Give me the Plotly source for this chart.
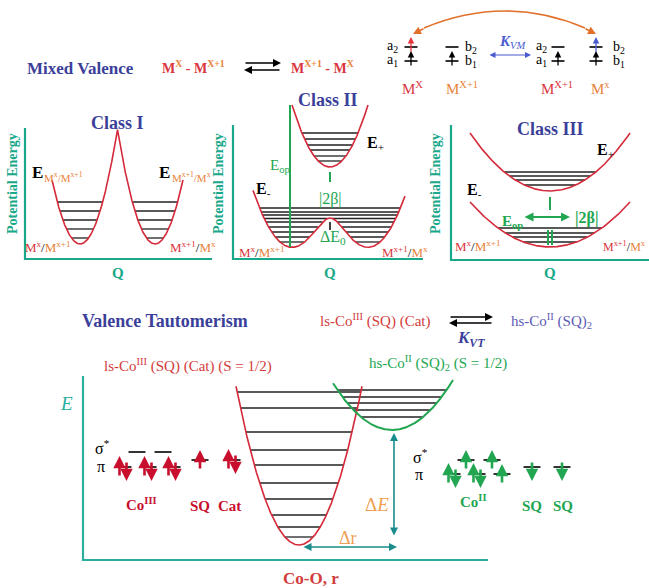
import numpy as np
import plotly.graph_objects as go

W, H = 649, 588
SERIF = "Liberation Serif, Times New Roman, DejaVu Serif, serif"

# ---------------- data (energies / coordinates in each panel's own units) ----------------
# Class I : two uncoupled harmonic wells
c1_well_Q = [55, 130]
c1_well_E = [15, 15]
c1_curv = 0.0816
c1_Q_span = [27, 158]
c1_levels = [57, 48, 39, 30, 21]

# Class II : weakly coupled
c2_up_Q0, c2_up_E0, c2_up_curv = 97, 92, 0.043
c2_up_span = [59, 135]
c2_up_levels = [126, 120, 114, 109, 103, 98]
c2_dia_Q = [57, 137]
c2_dia_E0 = 18
c2_dia_curv = 0.0394
c2_beta = 40
c2_lo_span = [20, 172]
c2_lo_levels = [51, 47, 44, 40.5, 37, 32, 27, 22, 17]
c2_Eop_Q, c2_Eop_E = 57, [12, 154]
c2_2b_Q, c2_2b_E = 97, [77, 87]
c2_dE0_E = [29, 37]

# Class III : fully delocalised
c3_Q0 = 99
c3_up_E0, c3_up_curv = 69, 0.00906
c3_lo_E0, c3_lo_curv = 13, 0.00703
c3_span = [19, 179]
c3_up_levels = [88, 84, 80, 75]
c3_lo_levels = [32, 27, 23, 18]
c3_gap_E = [50, 63]
c3_pair_Q, c3_pair_E = [97, 101], [15, 30]
c3_Eop_Q, c3_Eop_E = [72, 119], 43

# Valence tautomerism
vt_ls_Q0, vt_ls_E0, vt_ls_curv = 216, 15, 0.04
vt_ls_span = [153, 279]
vt_ls_levels = [168, 152, 128, 110, 95, 77, 61, 45, 33, 23]
vt_hs_Q0, vt_hs_E0, vt_hs_curv = 309, 130, 0.01344
vt_hs_span = [250, 370]
vt_hs_levels = [170, 163, 157, 150, 143]
vt_dE_Q, vt_dE_E = 311, [23, 127]
vt_dr_Q, vt_dr_E = [219, 314], 13

# orbital diagrams (page pixels): (x, y, spins)
mv_orbitals = [(411, 47, "u", "#e8323c"), (411, 61, "u", "black"),
               (452, 47, "", "black"), (452, 61, "u", "black"),
               (558, 47, "", "black"), (558, 61, "u", "black"),
               (596, 47, "u", "#4a5ad0"), (596, 61, "u", "black")]
ls_orbitals = [(123, 467, "ud"), (148, 467, "ud"), (172, 467, "ud"),
               (137, 452, ""), (163, 452, ""), (200, 460, "u"), (232, 460, "ud")]
hs_orbitals = [(452, 474, "ud"), (477, 474, "ud"), (502, 474, "u"),
               (466, 460, "u"), (492, 460, "u"), (532, 467, "d"), (562, 467, "d")]

# panel origins on the page (layout)
PANELS = {2: (25, 259), 3: (233, 259), 4: (451, 260), 5: (83, 560)}
AXLEN = {2: (187, 131), 3: (190, 134), 4: (198, 135), 5: (405, 184)}

RED = "#d42a3a"
GREEN = "#22a651"
TEAL = "#1aa88a"
TEAL2 = "#2aae9e"
BLUE = "#3b3f9a"
ORANGE = "#e8823a"
MRED = "#d9363e"
LEVEL = "#222222"

fig = go.Figure()


def line(q, e, p, color, width=1.5):
    fig.add_trace(go.Scatter(x=q, y=e, mode="lines", xaxis=f"x{p}", yaxis=f"y{p}",
                             line=dict(color=color, width=width), hoverinfo="skip",
                             showlegend=False))


def levels(q, e, lv, p):
    xs, ys = [], []
    for L in lv:
        inside = e <= L
        i = 0
        n = len(q)
        while i < n:
            if inside[i]:
                j = i
                while j + 1 < n and inside[j + 1]:
                    j += 1
                xs += [q[i], q[j], None]
                ys += [L, L, None]
                i = j + 1
            else:
                i += 1
    line(xs, ys, p, LEVEL, 1.3)


def parab(span, q0, e0, k, n=800):
    q = np.linspace(span[0], span[1], n)
    return q, e0 + k * (q - q0) ** 2


# axis lines for each panel
for p, (lx, ly) in AXLEN.items():
    col = TEAL2 if p == 5 else TEAL
    line([0, 0, lx], [ly, 0, 0], p, col, 2.2)

# Class I
q1 = np.linspace(c1_Q_span[0], c1_Q_span[1], 1000)
e1 = np.minimum(c1_well_E[0] + c1_curv * (q1 - c1_well_Q[0]) ** 2,
                c1_well_E[1] + c1_curv * (q1 - c1_well_Q[1]) ** 2)
levels(q1, e1, c1_levels, 2)
line(q1, e1, 2, RED, 1.6)

# Class II
qu, eu = parab(c2_up_span, c2_up_Q0, c2_up_E0, c2_up_curv)
levels(qu, eu, c2_up_levels, 3)
line(qu, eu, 3, RED, 1.6)
ql = np.linspace(c2_lo_span[0], c2_lo_span[1], 1200)
ha = c2_dia_E0 + c2_dia_curv * (ql - c2_dia_Q[0]) ** 2
hb = c2_dia_E0 + c2_dia_curv * (ql - c2_dia_Q[1]) ** 2
el = (ha + hb) / 2 - np.sqrt(((hb - ha) / 2) ** 2 + c2_beta ** 2)
levels(ql, el, c2_lo_levels, 3)
line(ql, el, 3, RED, 1.6)
line([c2_Eop_Q, c2_Eop_Q], c2_Eop_E, 3, GREEN, 2)
line([c2_2b_Q, c2_2b_Q], c2_2b_E, 3, GREEN, 2)
line([c2_2b_Q, c2_2b_Q], c2_dE0_E, 3, "black", 1.5)

# Class III
q3u, e3u = parab(c3_span, c3_Q0, c3_up_E0, c3_up_curv)
q3l, e3l = parab(c3_span, c3_Q0, c3_lo_E0, c3_lo_curv)
levels(q3u, e3u, c3_up_levels, 4)
levels(q3l, e3l, c3_lo_levels, 4)
line(q3u, e3u, 4, RED, 1.6)
line(q3l, e3l, 4, RED, 1.6)
line([c3_Q0, c3_Q0], c3_gap_E, 4, GREEN, 2)
for qq in c3_pair_Q:
    line([qq, qq], c3_pair_E, 4, GREEN, 2)

# Valence tautomerism
qr, er = parab(vt_ls_span, vt_ls_Q0, vt_ls_E0, vt_ls_curv)
qg, eg = parab(vt_hs_span, vt_hs_Q0, vt_hs_E0, vt_hs_curv)
levels(qr, er, vt_ls_levels, 5)
levels(qg, eg, vt_hs_levels, 5)
line(qr, er, 5, RED, 1.6)
line(qg, eg, 5, GREEN, 2)

ann = []


def arrow(x0, y0, x1, y1, color, width=1.5, size=1.0, ref="", both=False):
    d = dict(x=x1, y=y1, ax=x0, ay=y0, xref=f"x{ref}", yref=f"y{ref}",
             axref=f"x{ref}", ayref=f"y{ref}", text="", showarrow=True,
             arrowhead=2, arrowsize=size, arrowwidth=width, arrowcolor=color,
             standoff=0, startstandoff=0)
    if both:
        d.update(arrowside="end+start", startarrowhead=2, startarrowsize=size)
    ann.append(d)


def txt(s, x, y, size=14, color="black", angle=0, xanchor="center"):
    ann.append(dict(text=s, x=x, y=y, xref="x", yref="y", showarrow=False,
                    font=dict(size=size, color=color, family=SERIF),
                    textangle=angle, xanchor=xanchor, yanchor="middle"))


# arrows in panel coordinates
arrow(c3_Eop_Q[0], c3_Eop_E, c3_Eop_Q[1], c3_Eop_E, GREEN, 2, 0.9, ref="4", both=True)
arrow(vt_dE_Q, vt_dE_E[0], vt_dE_Q, vt_dE_E[1], "#1b8c8c", 1.6, 1.0, ref="5", both=True)
arrow(vt_dr_Q[0], vt_dr_E, vt_dr_Q[1], vt_dr_E, "#1b8c8c", 1.6, 1.0, ref="5", both=True)

# equilibrium arrows
arrow(244, 63, 281, 63, "black", 1.6, 1.0)
arrow(281, 70, 244, 70, "black", 1.6, 1.0)
arrow(449, 317, 493, 317, "black", 1.6, 1.0)
arrow(493, 323, 449, 323, "black", 1.6, 1.0)
arrow(488, 55, 531, 55, "#4a5ad0", 1.2, 1.0, both=True)

# orbital dashes and electrons
shapes = []


def dash(x, y, w, color="black", width=1.6):
    shapes.append(dict(type="line", xref="x", yref="y", x0=x - w / 2, x1=x + w / 2,
                       y0=y, y1=y, line=dict(color=color, width=width)))


for x, y, s, c in mv_orbitals:
    dash(x, y, 13)
    if s == "u":
        arrow(x, y + 6, x, y - 10, c, 1.3, 1.0)

for orbs, col, dw in ((ls_orbitals, "#c8102e", 17), (hs_orbitals, GREEN, 17)):
    for x, y, s in orbs:
        dash(x, y, dw)
        if s == "ud":
            arrow(x - 3.5, y + 10, x - 3.5, y - 11, col, 2.6, 0.95)
            arrow(x + 3.5, y - 6, x + 3.5, y + 14, col, 2.6, 0.95)
        elif s == "u":
            arrow(x, y + 10, x, y - 10, col, 2.6, 0.95)
        elif s == "d":
            arrow(x, y - 6, x, y + 14, col, 2.6, 0.95)

# curved orange arrow on top right
shapes.append(dict(type="path", xref="x", yref="y", path="M 585,28 Q 505,-6 424,28",
                   line=dict(color="#e0702a", width=1.6)))
arrow(425, 28, 413, 34, "#e0702a", 1.6, 1.0)
arrow(584, 28, 596, 34, "#e0702a", 1.6, 1.0)

# ---------------- text ----------------
M = lambda s: f"<span style='color:{MRED}'>M</span><sup><span style='color:{ORANGE}'>{s}</span></sup>"
txt("<b>Mixed Valence</b>", 80, 68, 17, BLUE)
txt(f"<b>{M('X')} <span style='color:{MRED}'>-</span> {M('X+1')}</b>", 193, 67, 14)
txt(f"<b>{M('X+1')} <span style='color:{MRED}'>-</span> {M('X')}</b>", 322, 67, 14)

# top-right orbital labels
txt("a<sub>2</sub>", 392, 46, 14); txt("a<sub>1</sub>", 392, 60, 14)
txt("b<sub>2</sub>", 471, 47, 14); txt("b<sub>1</sub>", 471, 61, 14)
txt("a<sub>2</sub>", 541, 46, 14); txt("a<sub>1</sub>", 541, 60, 14)
txt("b<sub>2</sub>", 619, 47, 14); txt("b<sub>1</sub>", 619, 61, 14)
txt("<b><i>K</i></b><sub><i>VM</i></sub>", 512, 42, 15, "#4a5ad0")
txt(f"<span style='color:{MRED}'>M</span><sup><span style='color:{MRED}'>X</span></sup>", 412, 88, 15)
txt(f"<span style='color:{ORANGE}'>M</span><sup><span style='color:{ORANGE}'>X+1</span></sup>", 462, 88, 15)
txt(f"<span style='color:{MRED}'>M</span><sup><span style='color:{MRED}'>X+1</span></sup>", 557, 88, 15)
txt(f"<span style='color:{ORANGE}'>M</span><sup><span style='color:{ORANGE}'>x</span></sup>", 600, 88, 15)

# class titles
txt("<b>Class I</b>", 117, 123, 18, BLUE)
txt("<b>Class II</b>", 328, 100, 18, BLUE)
txt("<b>Class III</b>", 550, 129, 18, BLUE)

for x in (12, 218, 435):
    txt("<b>Potential Energy</b>", x, 184, 14, TEAL, angle=-90)
for x in (118, 330, 550):
    txt("<b>Q</b>", x, 273, 15, TEAL)

sub1 = f"<span style='color:{ORANGE}'>M<sup>x</sup>/M<sup>x+1</sup></span>"
sub2 = f"<span style='color:{ORANGE}'>M<sup>x+1</sup>/M<sup>x</sup></span>"
MM1 = f"<span style='color:{MRED}'>M<sup>x</sup></span>/<span style='color:{ORANGE}'>M<sup>x+1</sup></span>"
MM2 = f"<span style='color:{MRED}'>M<sup>x+1</sup></span>/<span style='color:{ORANGE}'>M<sup>x</sup></span>"
# Class I labels
txt("<b>E</b>", 37, 172, 17)
txt(sub1, 63, 177, 11)
txt("<b>E</b>", 164, 172, 17)
txt(sub2, 191, 177, 11)
txt(MM1, 48, 247, 13)
txt(MM2, 193, 247, 13)
# Class II labels
txt(MM1, 262, 252, 13)
txt(MM2, 405, 252, 13)
txt("E<sub>op</sub>", 280, 166, 15, GREEN)
txt("<b>E</b><sub>-</sub>", 263, 189, 16)
txt("<b>E</b><sub>+</sub>", 375, 143, 16)
txt("|2β|", 330, 199, 16, GREEN)
txt("ΔE<sub>0</sub>", 333, 237, 16, GREEN)
# Class III labels
txt(MM1, 478, 246, 13)
txt(MM2, 648, 246, 12, xanchor="right")
txt("<b>E</b><sub>+</sub>", 605, 150, 16)
txt("<b>E</b><sub>-</sub>", 474, 190, 16)
txt("<b>E<sub>op</sub></b>", 512, 222, 15, GREEN)
txt("<b>|2β|</b>", 586, 218, 16, GREEN)

# valence tautomerism
txt("<b>Valence Tautomerism</b>", 165, 321, 18, BLUE)
txt("ls-Co<sup>III</sup> (SQ) (Cat)", 375, 320, 15, "#d23c3c")
txt("<b><i>K</i></b><sub><b><i>VT</i></b></sub>", 471, 339, 17, BLUE)
txt("hs-Co<sup>II</sup> (SQ)<sub>2</sub>", 551, 321, 15, "#5b5bb5")
txt("ls-Co<sup>III</sup> (SQ) (Cat) (S = 1/2)", 188, 365, 15, "#d23c3c")
txt("hs-Co<sup>II</sup> (SQ)<sub>2</sub> (S = 1/2)", 438, 363, 15, GREEN)
txt("<i>E</i>", 66, 403, 19, TEAL2)
txt("σ<sup>*</sup>", 102, 447, 16); txt("π", 101, 466, 16)
txt("<b>Co<sup>III</sup></b>", 141, 504, 15, "#c8102e")
txt("<b>SQ</b>", 200, 506, 15, "#c8102e")
txt("<b>Cat</b>", 229, 506, 15, "#c8102e")
txt("σ<sup>*</sup>", 420, 456, 16); txt("π", 419, 474, 16)
txt("<b>Co<sup>II</sup></b>", 473, 501, 15, GREEN)
txt("<b>SQ</b>", 532, 506, 15, GREEN)
txt("<b>SQ</b>", 563, 506, 15, GREEN)
txt("Δ<i>E</i>", 377, 504, 19, "#f0a050")
txt("Δr", 348, 538, 18, "#f0a050")
txt("<b>Co-O, r</b>", 311, 578, 17, "#d23c3c")

layout = dict(width=W, height=H, margin=dict(l=0, r=0, t=0, b=0),
              paper_bgcolor="white", plot_bgcolor="rgba(0,0,0,0)",
              showlegend=False, annotations=ann, shapes=shapes,
              xaxis=dict(domain=[0, 1], range=[0, W], visible=False, fixedrange=True),
              yaxis=dict(domain=[0, 1], range=[H, 0], visible=False, fixedrange=True))
for p, (ox, oy) in PANELS.items():
    layout[f"xaxis{p}"] = dict(domain=[0, 1], range=[-ox, W - ox], visible=False,
                               anchor=f"y{p}", fixedrange=True)
    layout[f"yaxis{p}"] = dict(domain=[0, 1], range=[-(H - oy), oy], visible=False,
                               anchor=f"x{p}", fixedrange=True)
fig.update_layout(**layout)
fig.write_html("out.html")
